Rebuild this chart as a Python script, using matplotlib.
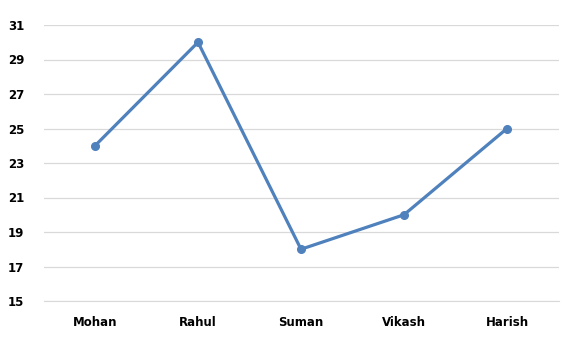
import matplotlib
matplotlib.use("Agg")
import matplotlib.pyplot as plt

names = ["Mohan", "Rahul", "Suman", "Vikash", "Harish"]
marks = [24, 30, 18, 20, 25]
yticks = [15, 17, 19, 21, 23, 25, 27, 29, 31]

plt.rcParams['font.family'] = ['DejaVu Sans']

fig = plt.figure(figsize=(5.68, 3.44), dpi=100)
ax = fig.add_axes([43.5/568, 1 - 301/344, 515/568, 276/344])

x = list(range(len(names)))
ax.plot(x, marks, color="#4F81BD", lw=2.3, marker="o", ms=5.5, zorder=3)

ax.set_xlim(-0.5, len(names) - 0.5)
ax.set_ylim(15, 31)
ax.set_yticks(yticks)
ax.set_xticks(x)
ax.set_xticklabels(names, fontweight="bold", fontsize=8.5)
ax.set_yticklabels([str(t) for t in yticks], fontweight="bold", fontsize=8.5)
ax.grid(axis="y", color="#D9D9D9", lw=0.9)
ax.set_axisbelow(True)
for s in ["top", "right", "left"]:
    ax.spines[s].set_visible(False)
ax.spines["bottom"].set_color("#D9D9D9")
ax.tick_params(length=0)
ax.tick_params(axis="y", pad=14)
ax.tick_params(axis="x", pad=11)

fig.savefig("out.png", dpi=100)
